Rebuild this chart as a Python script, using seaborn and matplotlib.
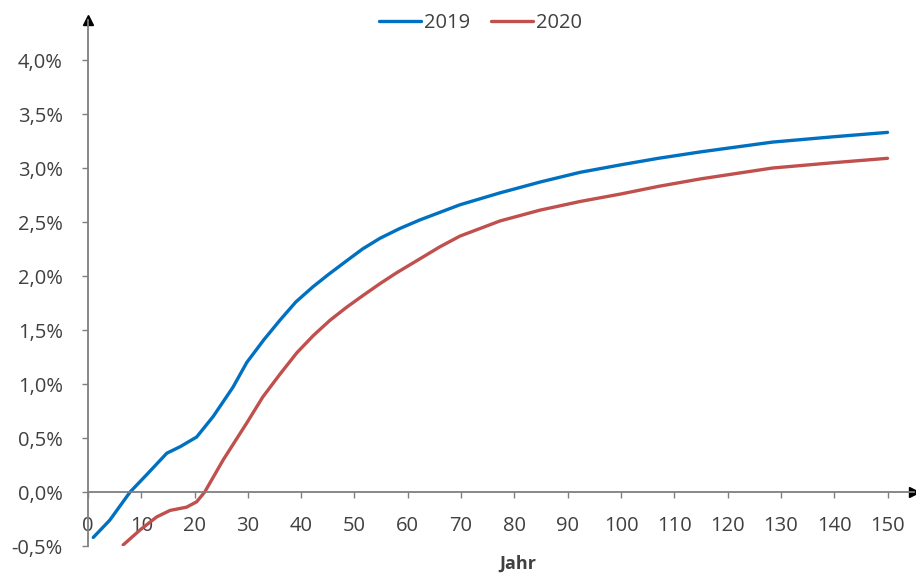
"""
Zinsstrukturkurve 2019 vs 2020
"""
import pandas as pd
import matplotlib
matplotlib.use("Agg")
import matplotlib.pyplot as plt
import seaborn as sns
from matplotlib.ticker import FuncFormatter

# Data (percent)
years_2019 = [1, 4.1, 7.9, 11, 14.8, 17.3, 20.4, 23.5, 27.2, 29.8,
              33, 36, 39, 42.2, 45, 48.5, 51.5, 54.8, 58.5, 62.3, 69.8, 77.3,
              84.8, 92.3, 100, 107, 115, 128.4, 140, 150]
rates_2019 = [-0.42, -0.26, 0.0, 0.16, 0.36, 0.42, 0.51, 0.70, 0.97, 1.20,
              1.41, 1.59, 1.76, 1.90, 2.01, 2.14, 2.25, 2.35, 2.44, 2.52, 2.66, 2.77,
              2.87, 2.96, 3.03, 3.09, 3.15, 3.24, 3.29, 3.33]

years_2020 = [6.6, 9.8, 12.9, 15.4, 18.5, 20.4, 21.9, 25.4, 29.8,
              32.8, 36, 39.2, 42.3, 45.4, 48.5, 51.6, 54.8, 57.9, 62.3, 66,
              69.8, 77.3, 84.8, 92.3, 100, 107, 115, 128.4, 140, 150]
rates_2020 = [-0.49, -0.35, -0.23, -0.17, -0.14, -0.09, 0.0, 0.30, 0.64,
              0.88, 1.09, 1.29, 1.45, 1.59, 1.71, 1.82, 1.93, 2.03, 2.16, 2.27,
              2.37, 2.51, 2.61, 2.69, 2.76, 2.83, 2.90, 3.00, 3.05, 3.09]

x_ticks = list(range(0, 151, 10))
y_ticks = [-0.5, 0.0, 0.5, 1.0, 1.5, 2.0, 2.5, 3.0, 3.5, 4.0]

df = pd.concat([
    pd.DataFrame({"Jahr": years_2019, "Zins": rates_2019, "Serie": "2019"}),
    pd.DataFrame({"Jahr": years_2020, "Zins": rates_2020, "Serie": "2020"}),
])

sns.set_style("white")
plt.rcParams['font.family'] = ['Open Sans', 'DejaVu Sans']

text_col = "#404040"
axis_col = "#7f7f7f"

fig = plt.figure(figsize=(9.16, 5.73), dpi=100)
ax = fig.add_axes([0.096, 0.047, 0.902, 0.918])

sns.lineplot(data=df, x="Jahr", y="Zins", hue="Serie",
             palette={"2019": "#0070C0", "2020": "#C0504D"},
             linewidth=2.4, ax=ax, sort=True)
for line in ax.get_lines():
    line.set_solid_joinstyle("round")

ax.set_xlim(0, 155)
ax.set_ylim(-0.5, 4.37)

# axis styling: x axis crosses at 0
for s in ["top", "right"]:
    ax.spines[s].set_visible(False)
ax.spines["bottom"].set_position(("data", 0))
ax.spines["bottom"].set_color(axis_col)
ax.spines["left"].set_color(axis_col)
ax.spines["bottom"].set_linewidth(1.3)
ax.spines["left"].set_linewidth(1.3)

# arrow heads
ax.plot(1, 0, ">", color="black", markersize=7, transform=ax.get_yaxis_transform(), clip_on=False)
ax.plot(0, 1, "^", color="black", markersize=7, transform=ax.get_xaxis_transform(), clip_on=False)

ax.set_xticks(x_ticks)
ax.set_yticks(y_ticks)
ax.yaxis.set_major_formatter(FuncFormatter(lambda v, _: f"{v:.1f}%".replace(".", ",")))
ax.tick_params(axis="both", direction="out", length=4, width=1, color=axis_col,
               labelsize=14.5, labelcolor=text_col, bottom=True, left=True)
ax.tick_params(axis="x", pad=13)
ax.tick_params(axis="y", pad=14)

ax.set_xlabel("")
ax.set_ylabel("")
fig.text(0.565, 0.017, "Jahr", ha="center", va="center", fontsize=13,
         fontweight="bold", color=text_col)

leg = ax.legend(loc="upper center", bbox_to_anchor=(0.475, 1.048), ncol=2,
                frameon=False, fontsize=14.5, handlelength=2.1,
                handletextpad=0.15, columnspacing=1.0, title=None)
for t in leg.get_texts():
    t.set_color(text_col)

plt.savefig("out.png", dpi=100)
plt.close()
